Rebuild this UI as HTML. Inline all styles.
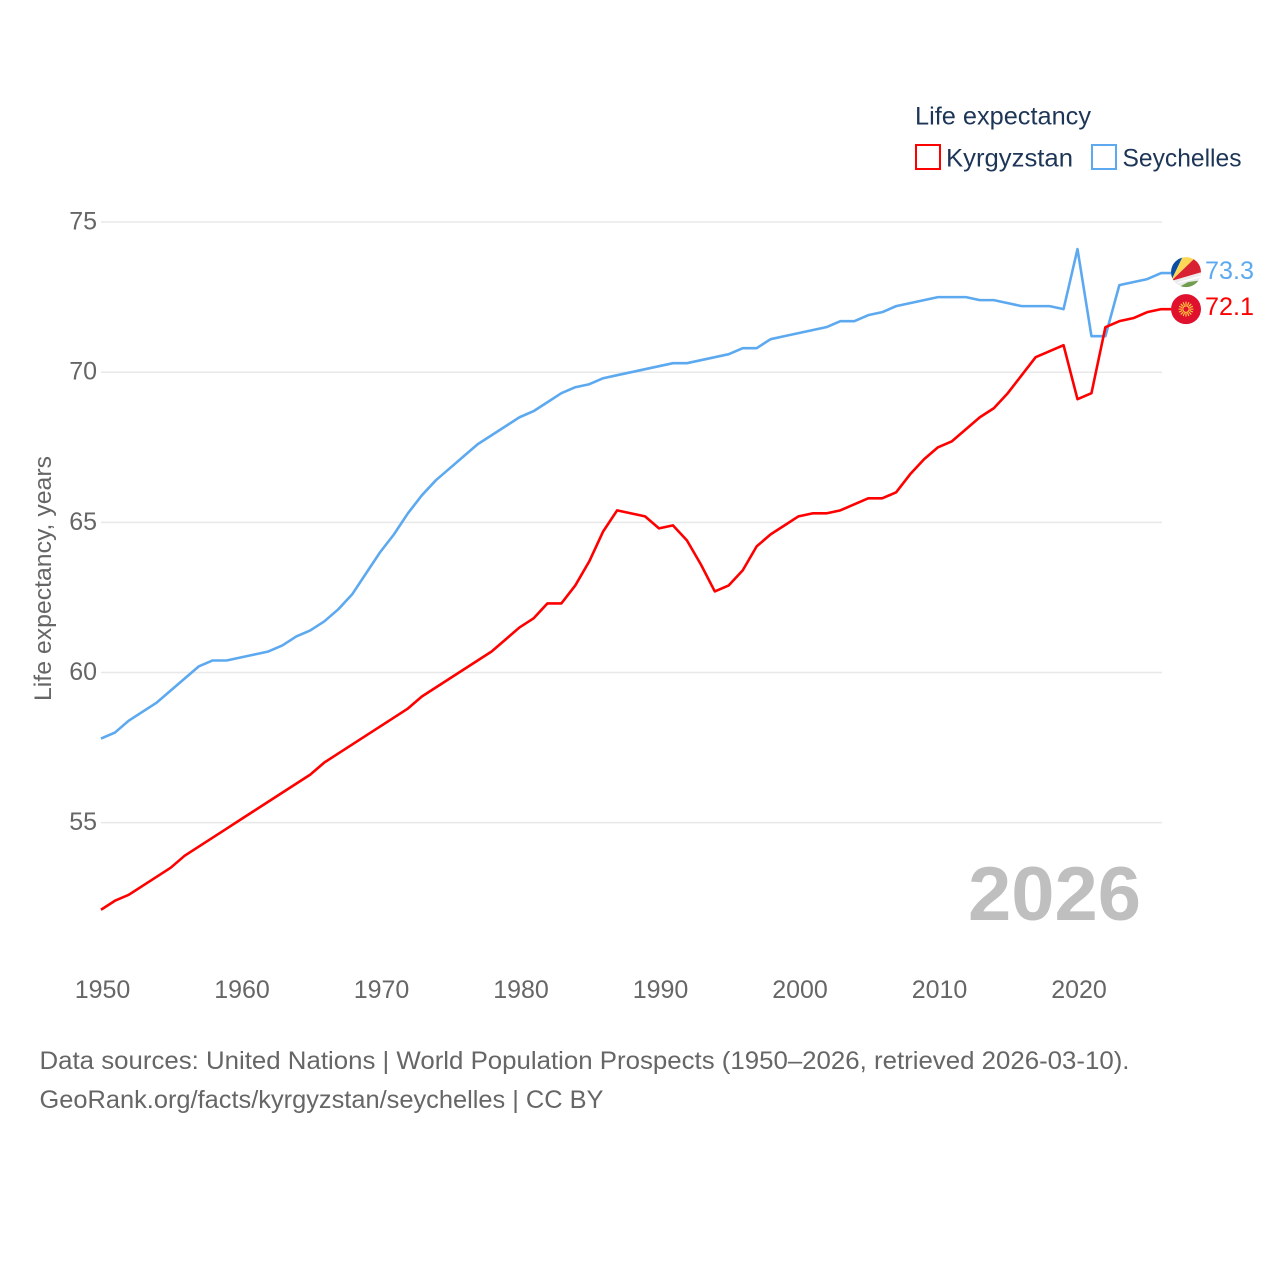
<!DOCTYPE html>
<html lang="en">
<head>
<meta charset="utf-8">
<title>Life expectancy: Kyrgyzstan and Seychelles</title>
<style>
html,body{margin:0;padding:0;background:#fff;}
svg{display:block;}
text{font-family:"Liberation Sans",sans-serif;}
</style>
</head>
<body>
<svg id="chart" width="1280" height="1280" viewBox="0 0 1280 1280" xmlns="http://www.w3.org/2000/svg">
  <defs>
    <clipPath id="flag-clip"><circle cx="0" cy="0" r="15"></circle></clipPath>
  </defs>
  <g id="grid"></g>
  <g id="y-ticks"></g>
  <g id="x-ticks"></g>
  <text transform="translate(51,701) rotate(-90)" font-size="24.5" fill="#666" textLength="245" lengthAdjust="spacingAndGlyphs">Life expectancy, years</text>
  <text x="968" y="920" font-size="76" font-weight="700" fill="#bfbfbf" textLength="173" lengthAdjust="spacingAndGlyphs">2026</text>
  <g id="series"></g>
  <g id="end-labels"></g>

  <g>
    <text x="915" y="124.5" font-size="25" fill="#1d3557" textLength="176" lengthAdjust="spacingAndGlyphs">Life expectancy</text>
    <rect x="916" y="145" width="24" height="24" fill="#fff" stroke="#ff0000" stroke-width="2"></rect>
    <text x="946" y="166.5" font-size="25" fill="#1d3557" textLength="127" lengthAdjust="spacingAndGlyphs">Kyrgyzstan</text>
    <rect x="1092" y="145" width="24" height="24" fill="#fff" stroke="#5da9f0" stroke-width="2"></rect>
    <text x="1122.5" y="166.5" font-size="25" fill="#1d3557" textLength="119" lengthAdjust="spacingAndGlyphs">Seychelles</text>
  </g>

  <text x="39.5" y="1069" font-size="25" fill="#666" textLength="1090" lengthAdjust="spacingAndGlyphs">Data sources: United Nations | World Population Prospects (1950–2026, retrieved 2026-03-10).</text>
  <text x="39.5" y="1108" font-size="25" fill="#666" textLength="564" lengthAdjust="spacingAndGlyphs">GeoRank.org/facts/kyrgyzstan/seychelles | CC BY</text>
</svg>
<script>
const startYear = 1950;
const kyrgyzstanValues = [52.1,52.4,52.6,52.9,53.2,53.5,53.9,54.2,54.5,54.8,55.1,55.4,55.7,56.0,56.3,56.6,57.0,57.3,57.6,57.9,58.2,58.5,58.8,59.2,59.5,59.8,60.1,60.4,60.7,61.1,61.5,61.8,62.3,62.3,62.9,63.7,64.7,65.4,65.3,65.2,64.8,64.9,64.4,63.6,62.7,62.9,63.4,64.2,64.6,64.9,65.2,65.3,65.3,65.4,65.6,65.8,65.8,66.0,66.6,67.1,67.5,67.7,68.1,68.5,68.8,69.3,69.9,70.5,70.7,70.9,69.1,69.3,71.5,71.7,71.8,72.0,72.1];
const seychellesValues = [57.8,58.0,58.4,58.7,59.0,59.4,59.8,60.2,60.4,60.4,60.5,60.6,60.7,60.9,61.2,61.4,61.7,62.1,62.6,63.3,64.0,64.6,65.3,65.9,66.4,66.8,67.2,67.6,67.9,68.2,68.5,68.7,69.0,69.3,69.5,69.6,69.8,69.9,70.0,70.1,70.2,70.3,70.3,70.4,70.5,70.6,70.8,70.8,71.1,71.2,71.3,71.4,71.5,71.7,71.7,71.9,72.0,72.2,72.3,72.4,72.5,72.5,72.5,72.4,72.4,72.3,72.2,72.2,72.2,72.1,74.1,71.2,71.2,72.9,73.0,73.1,73.3];
const yTickValues = [55,60,65,70,75];
const xTickValues = [1950,1960,1970,1980,1990,2000,2010,2020];

const NS = 'http://www.w3.org/2000/svg';
function xScale(year){ return 101 + (year - 1950) * 13.95; }
function yScale(v){ return 372.2 - (v - 70) * 30.03; }
function make(tag, parent, attrs){
  const el = document.createElementNS(NS, tag);
  for (const k in attrs) el.setAttribute(k, attrs[k]);
  parent.appendChild(el);
  return el;
}

const grid = document.getElementById('grid');
const yTicks = document.getElementById('y-ticks');
yTickValues.forEach(function(v){
  const line = make('line', grid, {x1:101, x2:1162, y1:yScale(v), y2:yScale(v), stroke:'#e8e8e8', 'stroke-width':1.5});
  
  
  const t = make('text', yTicks, {x:97, y:yScale(v) + 7.5, 'text-anchor':'end', 'font-size':25, fill:'#666'});
  
  
  t.textContent = v;
});

const xTicks = document.getElementById('x-ticks');
xTickValues.forEach(function(year){
  const t = make('text', xTicks, {x:xScale(year) + 1.5, y:998, 'text-anchor':'middle', 'font-size':25, fill:'#666'});
  
  
  t.textContent = year;
});

function linePath(values){
  let pts = values.map(function(v, i){ return xScale(startYear + i).toFixed(2) + ',' + yScale(v).toFixed(2); });
  const last = values[values.length - 1];
  pts.push('1171,' + yScale(last).toFixed(2));
  return 'M' + pts.join('L');
}
const series = document.getElementById('series');
const seyLine = make('path', series, {d:linePath(seychellesValues), fill:'none', stroke:'#5da9f0', 'stroke-width':2.6, 'stroke-linejoin':'round'});


const kgLine = make('path', series, {d:linePath(kyrgyzstanValues), fill:'none', stroke:'#ff0000', 'stroke-width':2.6, 'stroke-linejoin':'round'});



const labels = document.getElementById('end-labels');
const seyLast = seychellesValues[seychellesValues.length - 1];
const kgLast = kyrgyzstanValues[kyrgyzstanValues.length - 1];
const seyY = yScale(seyLast) - 1;
const kgY = yScale(kgLast);

const seyText = make('text', labels, {x:1205, y:seyY + 7, 'font-size':25, fill:'#5da9f0', textLength:49, lengthAdjust:'spacingAndGlyphs'});


seyText.textContent = seyLast.toFixed(1);
const kgText = make('text', labels, {x:1205, y:kgY + 6, 'font-size':25, fill:'#ff0000', textLength:49, lengthAdjust:'spacingAndGlyphs'});


kgText.textContent = kgLast.toFixed(1);

/* Seychelles flag: rays fanning out from bottom-left of the circle */
const sc = make('g', labels, {'clip-path':'url(#flag-clip)', transform:'translate(1186,' + seyY + ')'});


make('rect', sc, {x:-16, y:-16, width:32, height:32, fill:'#ffffff'});
make('path', sc, {d:'M-15,9L-15,-16L-3,-16Z', fill:'#0a4ea2'});
make('path', sc, {d:'M-15,9L-3,-16L11,-16Z', fill:'#fcd856'});
make('path', sc, {d:'M-15,9L11,-16L16,-16L16,0Z', fill:'#d92231'});
make('path', sc, {d:'M-15,9L16,0L16,8L-8,16Z', fill:'#ececec'});
make('path', sc, {d:'M-8,10L16,3L16,5L-8,11Z', fill:'#ffffff'});
make('path', sc, {d:'M-9,16L2,10L16,8L16,16Z', fill:'#6f9e4f'});

/* Kyrgyzstan flag: red disc with a yellow sun */
const kg = make('g', labels, {'clip-path':'url(#flag-clip)', transform:'translate(1186,' + kgY + ')'});


make('rect', kg, {x:-16, y:-16, width:32, height:32, fill:'#e0102f'});
for (let a = 0; a < 16; a++) {
  const rad = a * Math.PI / 8;
  make('line', kg, {x1:(4 * Math.cos(rad)).toFixed(2), y1:(4 * Math.sin(rad)).toFixed(2), x2:(7.5 * Math.cos(rad)).toFixed(2), y2:(7.5 * Math.sin(rad)).toFixed(2), stroke:'#ffd23f', 'stroke-width':1.1});
}
make('circle', kg, {cx:0, cy:0, r:3.2, fill:'none', stroke:'#ffd23f', 'stroke-width':1});
</script>
</body>
</html>
